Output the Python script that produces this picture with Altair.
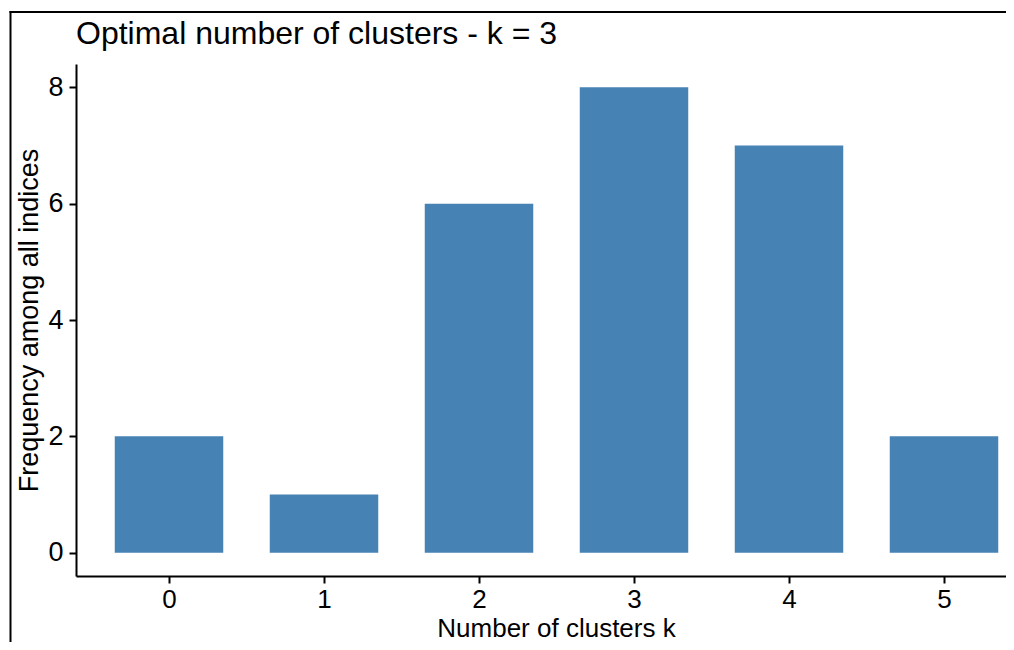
import altair as alt
import pandas as pd

k_values = [0, 1, 2, 3, 4, 5]
frequency = [2, 1, 6, 8, 7, 2]
x_ticks = [0, 1, 2, 3, 4, 5]
y_ticks = [0, 2, 4, 6, 8]
title_text = "Optimal number of clusters - k = 3"
x_title = "Number of clusters k"
y_title = "Frequency among all indices"

df = pd.DataFrame({"k": k_values, "freq": frequency})
FONT = "Arial, Liberation Sans, sans-serif"

PLOT_W = 930
PLOT_H = 512
xscale = alt.Scale(domain=[-0.6, -0.6 + PLOT_W / 155.0], nice=False, zero=False)
yscale = alt.Scale(domain=[-0.4, 8.4], nice=False, zero=False)

bars = (
    alt.Chart(df)
    .transform_calculate(lo="datum.k - 0.35", hi="datum.k + 0.35", base="0")
    .mark_bar(color="#4682B4")
    .encode(
        x=alt.X(
            "lo:Q",
            scale=xscale,
            axis=alt.Axis(
                values=x_ticks,
                format="d",
                title=x_title,
                titleX=480,
                titleY=60,
                titleFontSize=26,
                titleBaseline="alphabetic",
                labelBaseline="alphabetic",
                labelFontSize=26,
                labelPadding=24,
                labelFlush=False,
                labelOverlap=False,
            ),
        ),
        x2="hi:Q",
        y=alt.Y(
            "freq:Q",
            scale=yscale,
            axis=alt.Axis(
                values=y_ticks,
                format="d",
                title=y_title,
                titleX=-39,
                titleY=256,
                titleAngle=270,
                titleBaseline="alphabetic",
                labelPadding=6,
                labelFlush=False,
                labelOverlap=False,
            ),
        ),
        y2="base:Q",
    )
)

frame_df = pd.DataFrame({"a": [0]})
frame_top = (
    alt.Chart(frame_df)
    .mark_rule(stroke="black", strokeWidth=2, clip=False)
    .encode(x=alt.value(-66.5), x2=alt.value(PLOT_W), y=alt.value(-52))
)
frame_left = (
    alt.Chart(frame_df)
    .mark_rule(stroke="black", strokeWidth=2, clip=False)
    .encode(x=alt.value(-65.5), y=alt.value(-53), y2=alt.value(PLOT_H + 66))
)

chart = (
    alt.layer(bars, frame_top, frame_left)
    .properties(
        width=PLOT_W,
        height=PLOT_H,
        autosize=alt.AutoSizeParams(type="none"),
        padding={"left": 68, "top": 56, "right": 0, "bottom": 66},
        title=alt.TitleParams(
            text=title_text,
            anchor="start",
            frame="group",
            baseline="alphabetic",
            offset=0,
            dy=66,
            font=FONT,
            fontSize=32,
            fontWeight="normal",
            color="black",
        ),
        background="white",
    )
    .configure_view(stroke=None)
    .configure_axis(
        grid=False,
        domainColor="black",
        domainWidth=2,
        tickColor="black",
        tickWidth=2,
        tickSize=7,
        labelColor="black",
        labelFont=FONT,
        labelFontSize=27,
        titleColor="black",
        titleFont=FONT,
        titleFontSize=27,
        titleFontWeight="normal",
    )
)

chart.save("out.html", embed_options={"renderer": "svg", "actions": False})
